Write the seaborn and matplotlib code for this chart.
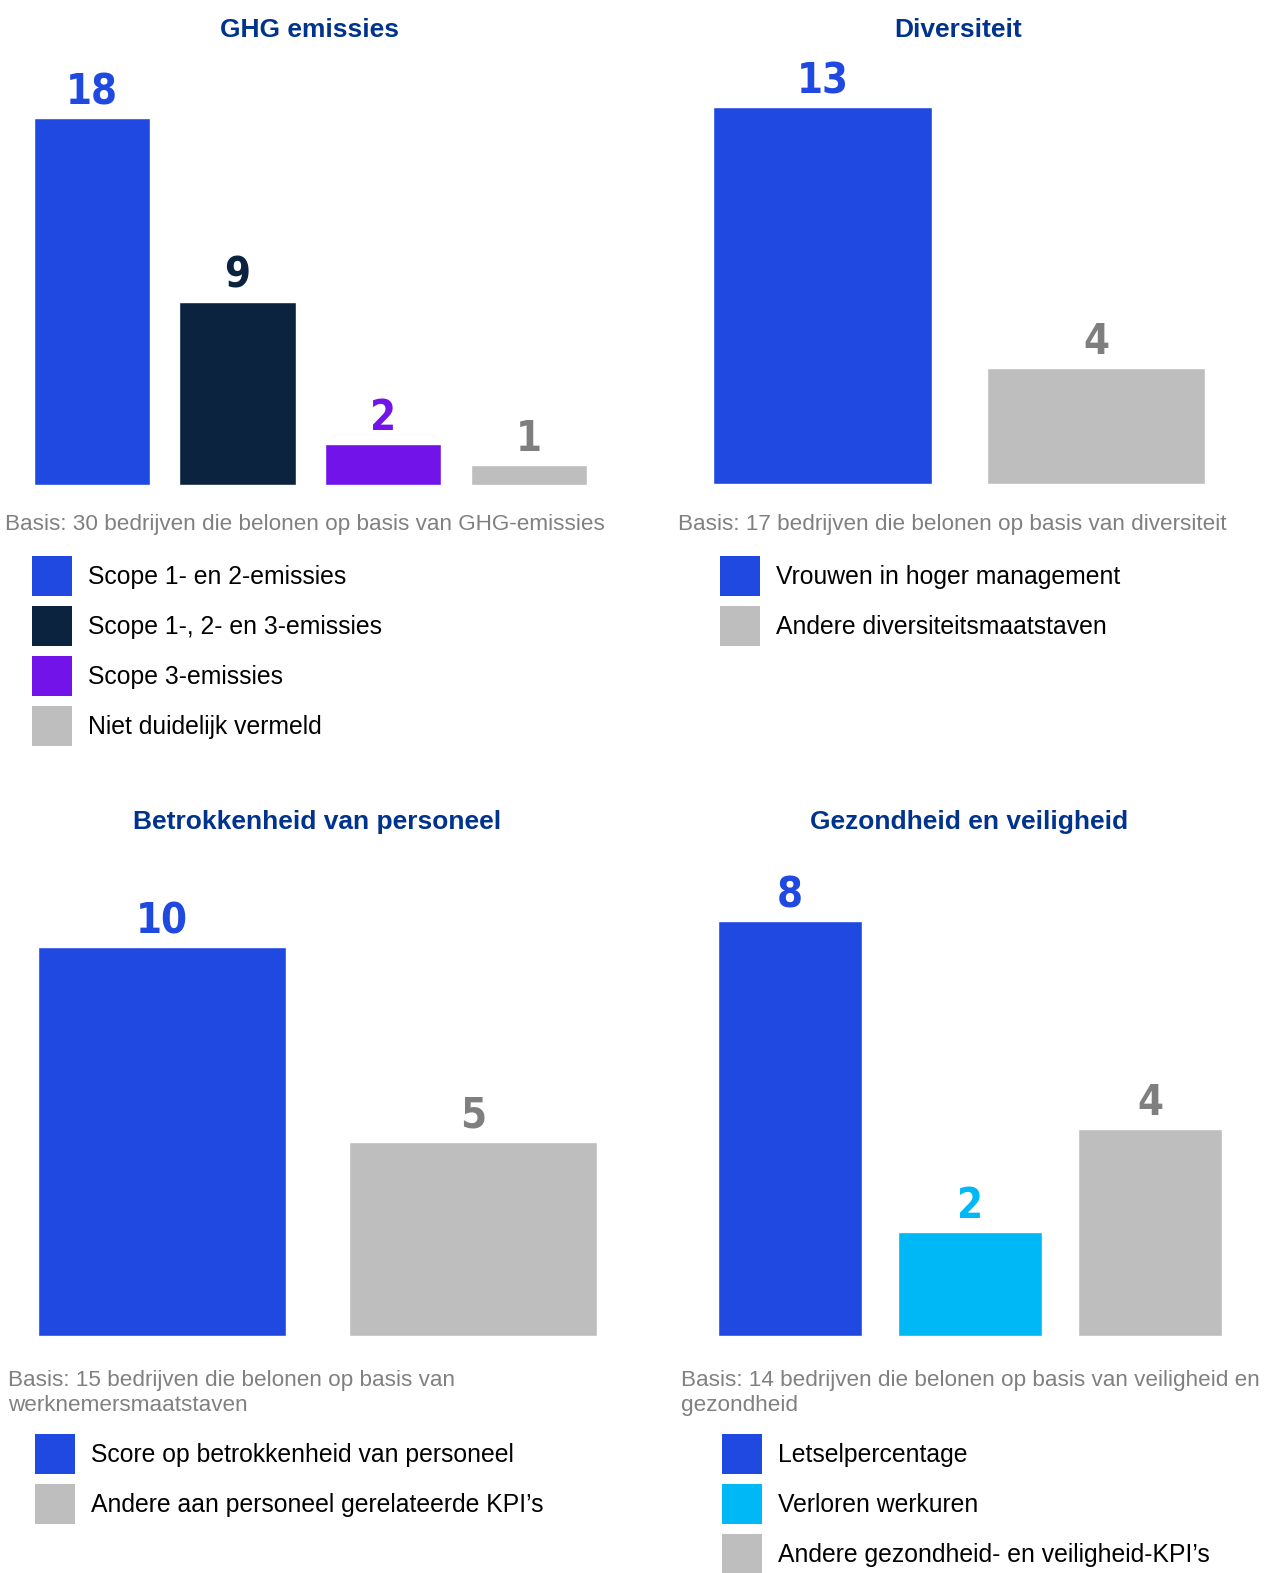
import matplotlib
matplotlib.use("Agg")
import matplotlib.pyplot as plt
import matplotlib.patches as mpatches
from matplotlib import font_manager
import pandas as pd
import seaborn as sns

sns.set_theme(style="white")
plt.rcParams['font.family'] = ['Liberation Sans', 'DejaVu Sans']

W, H = 1269, 1573
DPI = 100

# ==========================================
# DATA
# ==========================================
ghg_title = "GHG emissies"
ghg_labels = ["Scope 1- en 2-emissies", "Scope 1-, 2- en 3-emissies",
              "Scope 3-emissies", "Niet duidelijk vermeld"]
ghg_values = [18, 9, 2, 1]
ghg_basis = "Basis: 30 bedrijven die belonen op basis van GHG-emissies"

div_title = "Diversiteit"
div_labels = ["Vrouwen in hoger management", "Andere diversiteitsmaatstaven"]
div_values = [13, 4]
div_basis = "Basis: 17 bedrijven die belonen op basis van diversiteit"

pers_title = "Betrokkenheid van personeel"
pers_labels = ["Score op betrokkenheid van personeel",
               "Andere aan personeel gerelateerde KPI\u2019s"]
pers_values = [10, 5]
pers_basis = "Basis: 15 bedrijven die belonen op basis van\nwerknemersmaatstaven"

hs_title = "Gezondheid en veiligheid"
hs_labels = ["Letselpercentage", "Verloren werkuren",
             "Andere gezondheid- en veiligheid-KPI\u2019s"]
hs_values = [8, 2, 4]
hs_basis = "Basis: 14 bedrijven die belonen op basis van veiligheid en\ngezondheid"

# colours
BLUE = "#1F49E0"
NAVY = "#0C2340"
PURPLE = "#7213EA"
GREY = "#BEBEBE"
CYAN = "#00B8F5"
TITLE_BLUE = "#00338D"

ghg_colors = [BLUE, NAVY, PURPLE, GREY]
div_colors = [BLUE, GREY]
pers_colors = [BLUE, GREY]
hs_colors = [BLUE, CYAN, GREY]


def label_color(c):
    return "#7F7F7F" if c == GREY else c


# pick a narrow font for the value labels if one is installed
fonts = font_manager.fontManager.ttflist
num_font = dict(family=['DejaVu Sans'], fontsize=29)
if any(f.name == 'Liberation Sans Narrow' for f in fonts):
    num_font = dict(family=['Liberation Sans Narrow', 'DejaVu Sans'], fontsize=33)
elif any(f.name == 'DejaVu Sans' and 'condensed' in str(f.stretch) for f in fonts):
    num_font = dict(family=['DejaVu Sans'], fontstretch='condensed', fontsize=30)


# ==========================================
# LAYOUT HELPERS (pixel -> figure fraction)
# ==========================================
def fx(x):
    return x / W


def fy(y):
    return 1 - y / H


fig = plt.figure(figsize=(W / DPI, H / DPI), dpi=DPI)

LEG_FS = 17.8
LEG_PX = LEG_FS * DPI / 72
BOX = 40  # legend square in px
HH = (BOX / LEG_PX - 0.245) / 0.65


def draw_panel(labels, values, colors, title, basis,
               left, right, bottom, top,
               title_xy, basis_xy, legend_xy):
    ax = fig.add_axes([fx(left), fy(bottom), fx(right) - fx(left), fy(top) - fy(bottom)])
    df = pd.DataFrame({"cat": labels, "val": values})
    sns.barplot(data=df, x="cat", y="val", hue="cat", order=labels,
                palette=dict(zip(labels, colors)), saturation=1,
                width=0.8, legend=False, ax=ax)
    ax.set_ylim(0, max(values))
    ax.set_axis_off()

    for p, c in zip(ax.patches, colors):
        ax.annotate(str(int(p.get_height())),
                    (p.get_x() + p.get_width() / 2., p.get_height()),
                    xytext=(0, 10), textcoords='offset points',
                    ha='center', va='baseline', annotation_clip=False,
                    fontweight='bold', color=label_color(c), **num_font)

    fig.text(fx(title_xy[0]), fy(title_xy[1]), title, ha='center', va='center',
             fontsize=19, fontweight='bold', color=TITLE_BLUE)

    fig.text(fx(basis_xy[0]), fy(basis_xy[1]), basis, ha='left', va='top',
             fontsize=16.2, color="#808080", linespacing=1.22)

    handles = [mpatches.Patch(facecolor=c, edgecolor='none', label=l)
               for l, c in zip(labels, colors)]
    ax.legend(handles=handles, loc='upper left', frameon=False,
              bbox_to_anchor=(fx(legend_xy[0]), fy(legend_xy[1])),
              bbox_transform=fig.transFigure, labelcolor='black',
              fontsize=LEG_FS, borderpad=0, borderaxespad=0,
              handlelength=BOX / LEG_PX, handleheight=HH,
              handletextpad=16 / LEG_PX, labelspacing=10 / LEG_PX)
    return ax


draw_panel(ghg_labels, ghg_values, ghg_colors, ghg_title, ghg_basis,
           19, 601.7, 485, 118, (310, 30), (5, 514), (32, 556))
draw_panel(div_labels, div_values, div_colors, div_title, div_basis,
           685.75, 1232.75, 484, 107, (958, 30), (678, 514), (720, 556))
draw_panel(pers_labels, pers_values, pers_colors, pers_title, pers_basis,
           6.5, 628.5, 1336, 947, (317, 822), (8, 1370), (35, 1434))
draw_panel(hs_labels, hs_values, hs_colors, hs_title, hs_basis,
           700, 1240, 1336, 921, (969, 822), (681, 1370), (722, 1434))

fig.savefig("out.png", dpi=DPI, facecolor="white")
